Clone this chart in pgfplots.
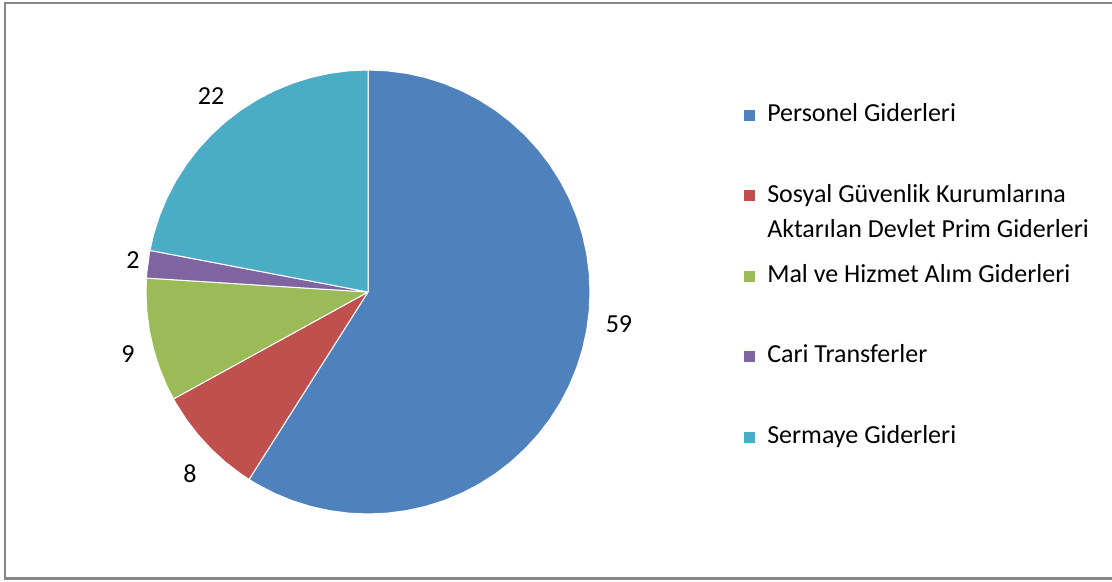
\documentclass[border=0pt]{standalone}
\usepackage{fontspec}
\setmainfont{Carlito}
\usepackage{pgfplots}
\pgfplotsset{compat=1.18}
\definecolor{cPers}{HTML}{4F81BD}
\definecolor{cSgk}{HTML}{C0504D}
\definecolor{cMal}{HTML}{9BBB59}
\definecolor{cCari}{HTML}{8064A2}
\definecolor{cSerm}{HTML}{4BACC6}
\definecolor{frame}{HTML}{878787}
% legend texts take no room, so every entry sits at the same pitch
\newcommand{\legtxt}[1]{\smash{\parbox[t]{255pt}{\raggedright #1}}}

\begin{document}
\begin{tikzpicture}
\begin{axis}[
    x=0.75pt, y=0.75pt,
    xmin=-363, xmax=752,
    ymin=-286.3, ymax=288.8,
    axis line style={draw=frame, line width=1.8pt},
    xtick=\empty, ytick=\empty,
    data cs=polar,
    clip=false,
    legend image code/.code={\fill[#1, draw=none] (0pt,0.6pt) rectangle (8.25pt,8.85pt);},
    legend style={at={(axis cs:376,182.5)}, anchor=north west, draw=none, fill=none,
        inner sep=0pt, row sep=48pt, column sep=7pt,
        cells={anchor=base west, inner sep=0pt},
        font=\fontsize{19.5}{26.25}\selectfont},
    every node near coord/.append style={anchor=center, text=black,
        font=\fontsize{19.5}{24}\selectfont},
]
% slices: 59, 8, 9, 2, 22 (percent), clockwise from 12 o'clock, radius 222
\addplot[fill=cPers, draw=white, line width=0.75pt, line join=round] coordinates {
    (0,0) (90,222) (85,222) (80,222) (75,222) (70,222) (65,222) (60,222) (55,222)
    (50,222) (45,222) (40,222) (35,222) (30,222) (25,222) (20,222) (15,222) (10,222)
    (5,222) (0,222) (-5,222) (-10,222) (-15,222) (-20,222) (-25,222) (-30,222)
    (-35,222) (-40,222) (-45,222) (-50,222) (-55,222) (-60,222) (-65,222) (-70,222)
    (-75,222) (-80,222) (-85,222) (-90,222) (-95,222) (-100,222) (-105,222)
    (-110,222) (-115,222) (-120,222) (-122.4,222) (0,0)
};
\addlegendentry{\legtxt{Personel Giderleri}}
\addplot[fill=cSgk, draw=white, line width=0.75pt, line join=round] coordinates {
    (0,0) (-122.4,222) (-125,222) (-130,222) (-135,222) (-140,222) (-145,222)
    (-150,222) (-151.2,222) (0,0)
};
\addlegendentry{\legtxt{Sosyal Güvenlik Kurumlarına\\Aktarılan Devlet Prim Giderleri}}
\addplot[fill=cMal, draw=white, line width=0.75pt, line join=round] coordinates {
    (0,0) (-151.2,222) (-155,222) (-160,222) (-165,222) (-170,222) (-175,222)
    (-180,222) (-183.6,222) (0,0)
};
\addlegendentry{\legtxt{Mal ve Hizmet Alım Giderleri}}
\addplot[fill=cCari, draw=white, line width=0.75pt, line join=round] coordinates {
    (0,0) (-183.6,222) (-185,222) (-190,222) (-190.8,222) (0,0)
};
\addlegendentry{\legtxt{Cari Transferler}}
\addplot[fill=cSerm, draw=white, line width=0.75pt, line join=round] coordinates {
    (0,0) (-190.8,222) (-195,222) (-200,222) (-205,222) (-210,222) (-215,222)
    (-220,222) (-225,222) (-230,222) (-235,222) (-240,222) (-245,222) (-250,222)
    (-255,222) (-260,222) (-265,222) (-270,222) (0,0)
};
\addlegendentry{\legtxt{Sermaye Giderleri}}
% data labels (angle, radius)
\addplot[draw=none, mark=none, forget plot, nodes near coords, point meta=explicit symbolic]
coordinates {
    (-7.27,253) [59]
    (-134.4,254.6) [8]
    (-165.5,247.9) [9]
    (172.25,237.2) [2]
    (128.7,251.1) [22]
};
\coordinate (bbsw) at (axis cs:-368,-289);
\coordinate (bbne) at (axis cs:744,292);
\end{axis}
\pgfresetboundingbox
\path (bbsw) rectangle (bbne);
\end{tikzpicture}
\end{document}
